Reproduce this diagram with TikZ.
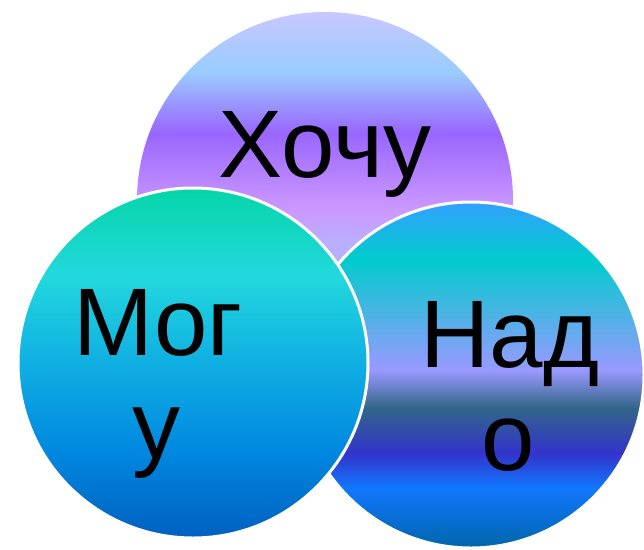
\documentclass[tikz,border=0pt]{standalone}
\usepackage{fontspec}
\setmainfont{Liberation Sans}
\definecolor{hA}{HTML}{C8C8FF}
\definecolor{hB}{HTML}{99CCFF}
\definecolor{hC}{HTML}{9966FF}
\definecolor{hD}{HTML}{CC99FF}
\definecolor{hE}{HTML}{B8B0FF}
\definecolor{mA}{HTML}{05D5A8}
\definecolor{mB}{HTML}{22D8DD}
\definecolor{mC}{HTML}{10B0E2}
\definecolor{mD}{HTML}{0088E0}
\definecolor{mE}{HTML}{0060C0}
\definecolor{nA}{HTML}{33A0FF}
\definecolor{nB}{HTML}{00CCCC}
\definecolor{nC}{HTML}{9999FF}
\definecolor{nD}{HTML}{336688}
\definecolor{nE}{HTML}{3333CC}
\definecolor{nF}{HTML}{1177FF}
\definecolor{nG}{HTML}{0066AA}
\pgfdeclareverticalshading{hochushade}{100bp}{color(0bp)=(hE); color(44bp)=(hE); color(48.7bp)=(hD); color(58.9bp)=(hC); color(67bp)=(hB); color(75bp)=(hA); color(100bp)=(hA)}
\pgfdeclareverticalshading{mogushade}{100bp}{color(0bp)=(mE); color(25bp)=(mE); color(37.4bp)=(mD); color(50.4bp)=(mC); color(62.4bp)=(mB); color(75bp)=(mA); color(100bp)=(mA)}
\pgfdeclareverticalshading{nadoshade}{100bp}{color(0bp)=(nG); color(25bp)=(nG); color(33.7bp)=(nF); color(38.7bp)=(nE); color(45.3bp)=(nD); color(50.7bp)=(nC); color(66.7bp)=(nB); color(75bp)=(nA); color(100bp)=(nA)}
\tikzset{
  bubble/.style={circle, draw=white, line width=3pt, inner sep=0pt},
  word/.style={font=\fontsize{96}{103}\selectfont, text=black, anchor=base, inner sep=0pt}
}
\begin{document}
\begin{tikzpicture}[x=1pt,y=-1pt]
\useasboundingbox (0,0) rectangle (644,549);
\node[bubble, draw=none, minimum size=376pt, shading=hochushade] (hochu) at (325,200) {};
\node[bubble, minimum size=346pt, shading=nadoshade] (nado) at (471,375) {};
\node[bubble, minimum size=350pt, shading=mogushade] (mogu) at (193,363) {};
\node[word] (thochu) at (325,177) {Хочу};
\node[word] (tmog) at (158,355) {Мог};
\node[word] (tmogu) at (156,458) {у};
\node[word] (tnad) at (510,367) {Над};
\node[word] (tnado) at (508,470) {о};
\end{tikzpicture}
\end{document}
